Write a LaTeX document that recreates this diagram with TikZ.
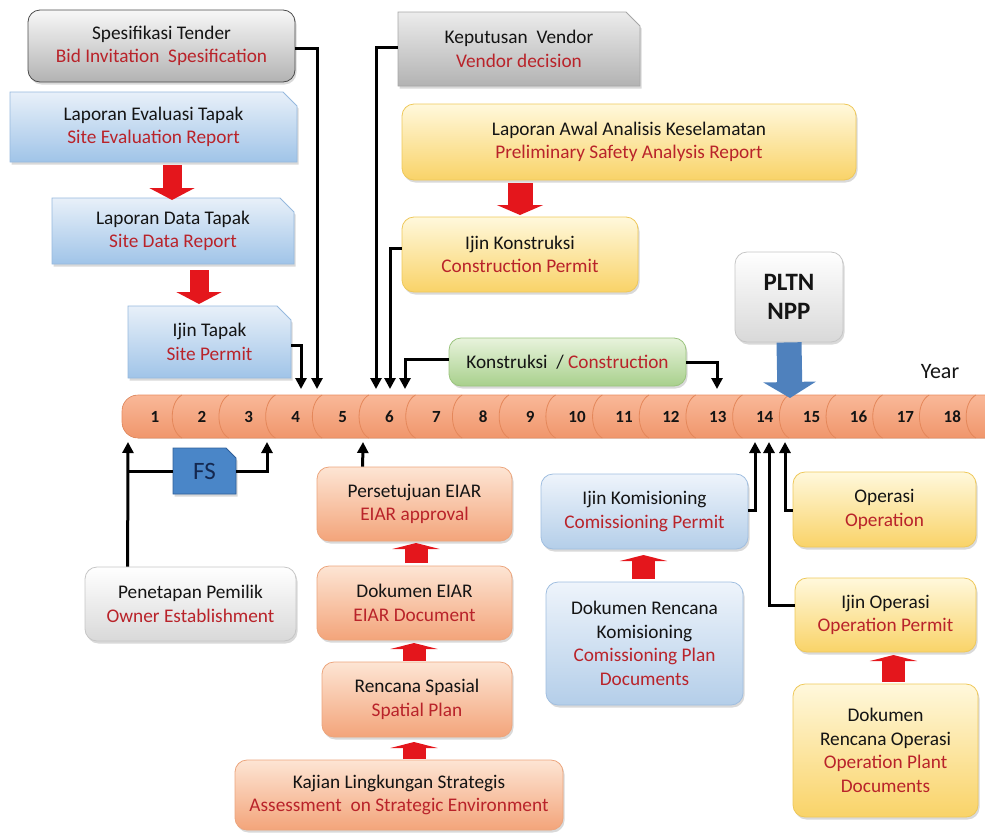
\documentclass[tikz,border=0pt]{standalone}
\usepackage{fontspec}
\setmainfont{Carlito}
\usetikzlibrary{arrows.meta,shapes.misc,shadows,calc}
\definecolor{tred}{RGB}{185,35,42}
\definecolor{ttext}{RGB}{20,20,20}
\definecolor{arrred}{RGB}{228,22,28}
\definecolor{arrblue}{RGB}{79,129,189}
\definecolor{tlTop}{RGB}{249,184,152}
\definecolor{tlBot}{RGB}{240,150,108}
\definecolor{tlEdge}{RGB}{232,140,95}
\definecolor{tlArc}{RGB}{228,135,90}
\definecolor{blTop}{RGB}{232,240,249}
\definecolor{blBot}{RGB}{160,196,232}
\definecolor{blEdge}{RGB}{150,185,222}
\definecolor{yeTop}{RGB}{255,248,220}
\definecolor{yeBot}{RGB}{249,211,104}
\definecolor{yeEdge}{RGB}{238,200,90}
\definecolor{orTop}{RGB}{253,229,212}
\definecolor{orBot}{RGB}{243,164,122}
\definecolor{orEdge}{RGB}{236,165,125}
\definecolor{grTop}{RGB}{232,243,220}
\definecolor{grBot}{RGB}{168,208,140}
\definecolor{grEdge}{RGB}{155,196,126}
\definecolor{lbTop}{RGB}{238,244,251}
\definecolor{lbBot}{RGB}{180,206,233}
\definecolor{lbEdge}{RGB}{160,190,224}
\definecolor{fsFill}{RGB}{74,134,200}
\definecolor{fsEdge}{RGB}{47,95,153}
\definecolor{fsText}{RGB}{20,40,80}
\newcommand{\mainsz}{\fontsize{19.3}{23.5}\selectfont}
\newcommand{\rt}[1]{\textcolor{tred}{#1}}
\begin{document}
\begin{tikzpicture}[x=1pt,y=-1pt,
  box/.style={align=center, inner sep=0pt, font=\mainsz, text=ttext, line width=0.8pt,
    drop shadow={shadow xshift=1.5pt,shadow yshift=-2.5pt,opacity=0.3}},
  rbox/.style={box, rounded corners=12pt},
  cbox/.style={box, chamfered rectangle, chamfered rectangle corners=north east,
    chamfered rectangle xsep=7pt, chamfered rectangle ysep=7pt},
  graybox/.style={rbox, top color=gray!6, bottom color=gray!60, draw=gray!60!black},
  grayc/.style={cbox, top color=gray!15, bottom color=gray!60, draw=gray!70},
  bluec/.style={cbox, top color=blTop, bottom color=blBot, draw=blEdge},
  yelbox/.style={rbox, top color=yeTop, bottom color=yeBot, draw=yeEdge},
  orbox/.style={rbox, top color=orTop, bottom color=orBot, draw=orEdge},
  grbox/.style={rbox, top color=grTop, bottom color=grBot, draw=grEdge},
  lbbox/.style={rbox, top color=lbTop, bottom color=lbBot, draw=lbEdge},
  whbox/.style={rbox, top color=white, bottom color=gray!30, draw=gray!45},
  conn/.style={line width=3pt, black, line join=miter, -{Triangle[width=11pt,length=11pt]}},
  plain/.style={line width=3pt, black},
  reddown/.style={line width=19pt, arrred, -{Triangle[width=45pt,length=12pt]}},
  redup/.style={line width=23pt, arrred, -{Triangle[width=47pt,length=6pt]}},
  yr/.style={font=\fontsize{17}{17}\selectfont\bfseries, text=ttext}
]
\useasboundingbox (0,0) rectangle (985,833);

% timeline
\fill[top color=tlTop, bottom color=tlBot, rounded corners=16pt]
  (122,395) rectangle (1015,438);
\draw[tlEdge, line width=0.6pt, rounded corners=16pt]
  (1015,395) -- (122,395) -- (122,438) -- (1015,438);
\foreach \k in {1,...,18} {
  \pgfmathsetmacro{\xt}{182+46.7*(\k-1)}
  \draw[tlArc, line width=0.8pt]
    (\xt,395) .. controls (\xt-13,402) and (\xt-13,431) .. (\xt,438);
}
\foreach \k in {1,...,18} {
  \pgfmathsetmacro{\xc}{155+46.9*(\k-1)}
  \node[yr] (yr\k) at (\xc,417) {\k};
}
\node[font=\fontsize{22}{22}\selectfont, text=ttext] (year) at (940,372) {Year};

% top boxes
\node[graybox, minimum width=267pt, minimum height=72pt] (spec) at (161.5,46)
  {Spesifikasi Tender\\\rt{Bid Invitation\ \ Spesification}};
\node[bluec, minimum width=287pt, minimum height=70pt] (evalT) at (153.5,127)
  {Laporan Evaluasi Tapak\\\rt{Site Evaluation Report}};
\node[bluec, minimum width=242pt, minimum height=66pt] (dataT) at (173,231)
  {Laporan Data Tapak\\\rt{Site Data Report}};
\node[bluec, minimum width=163pt, minimum height=72pt] (ijinT) at (209.5,342)
  {Ijin Tapak\\\rt{Site Permit}};
\node[grayc, minimum width=242pt, minimum height=74pt] (vendor) at (519,49)
  {Keputusan\ \ Vendor\\\rt{Vendor decision}};
\node[yelbox, minimum width=454pt, minimum height=76pt] (psar) at (629,142)
  {Laporan Awal Analisis Keselamatan\\\rt{Preliminary Safety Analysis Report}};
\node[yelbox, minimum width=236pt, minimum height=75pt] (ijinK) at (520,254.5)
  {Ijin Konstruksi\\\rt{Construction Permit}};
\node[whbox, minimum width=108pt, minimum height=90pt, font=\fontsize{25}{29}\selectfont\bfseries] (pltn) at (789,297)
  {PLTN\\NPP};
\node[grbox, minimum width=237pt, minimum height=48pt] (konstr) at (567.5,362)
  {Konstruksi\ \ / \rt{Construction}};

% bottom boxes
\node[box, chamfered rectangle, chamfered rectangle corners=north east,
  chamfered rectangle xsep=5pt, chamfered rectangle ysep=5pt,
  fill=fsFill, draw=fsEdge,
  minimum width=63pt, minimum height=46pt, font=\fontsize{25}{25}\selectfont,
  text=fsText] (fs) at (204.5,471) {FS};
\node[whbox, minimum width=211pt, minimum height=74pt] (owner) at (190.5,604)
  {Penetapan Pemilik\\\rt{Owner Establishment}};
\node[orbox, minimum width=195pt, minimum height=74pt] (eiarA) at (414.5,504)
  {Persetujuan EIAR\\\rt{EIAR approval}};
\node[orbox, minimum width=195pt, minimum height=74pt] (eiarD) at (414.5,603)
  {Dokumen EIAR\\\rt{EIAR Document}};
\node[orbox, minimum width=190pt, minimum height=75pt] (spatial) at (417,699.5)
  {Rencana Spasial\\\rt{Spatial Plan}};
\node[orbox, minimum width=328pt, minimum height=70pt] (kajian) at (399,795)
  {Kajian Lingkungan Strategis\\\rt{Assessment\ \ on Strategic Environment}};
\node[lbbox, minimum width=207pt, minimum height=75pt] (komP) at (644.5,511.5)
  {Ijin Komisioning\\\rt{Comissioning Permit}};
\node[lbbox, minimum width=197pt, minimum height=123pt] (komD) at (644.5,643.5)
  {Dokumen Rencana\\Komisioning\\\rt{Comissioning Plan}\\\rt{Documents}};
\node[yelbox, minimum width=183pt, minimum height=75pt] (oper) at (884.5,509.5)
  {Operasi\\\rt{Operation}};
\node[yelbox, minimum width=181pt, minimum height=74pt] (operP) at (885.5,615)
  {Ijin Operasi\\\rt{Operation Permit}};
\node[yelbox, minimum width=185pt, minimum height=133pt] (operD) at (885.5,750.5)
  {Dokumen\\Rencana Operasi\\\rt{Operation Plant}\\\rt{Documents}};

% timeline arrival points
\coordinate (tA) at (301,389);
\coordinate (tB) at (317,389);
\coordinate (tC) at (376,389);
\coordinate (tD) at (390,389);
\coordinate (tE) at (405,389);
\coordinate (tF) at (717,389);
\coordinate (bA) at (128,442);
\coordinate (bB) at (267,442);
\coordinate (bC) at (363,442);
\coordinate (bD) at (755,442);
\coordinate (bE) at (769,442);
\coordinate (bF) at (785,442);

% connectors
\draw[conn] ($(spec.east)+(0,2)$) -| (tB);
\draw[conn] ($(ijinT.east)+(0,3)$) -| (tA);
\draw[conn] ($(vendor.west)+(0,-2)$) -| (tC);
\draw[conn] ($(ijinK.west)+(0,-6)$) -| (tD);
\draw[conn] ($(konstr.west)+(0,-3)$) -| (tE);
\draw[conn] (konstr.east) -| (tF);
\draw[conn] ($(owner.north west)+(43,0)$) -- (bA);
\draw[plain] (fs.west) -- (128,471);
\draw[conn] (fs.east) -| (bB);
\draw[conn] ($(eiarA.north west)+(46,0)$) -- (bC);
\draw[conn] ($(komP.east)+(0,-1.5)$) -| (bD);
\draw[conn] ($(oper.west)+(0,0.5)$) -| (bF);
\draw[conn] ($(operP.west)+(0,-10)$) -| (bE);

% red block arrows
\draw[reddown] (172,165) -- (172,200);
\draw[reddown] (199,270) -- (199,304);
\draw[reddown, line width=25pt, -{Triangle[width=46pt,length=10pt]}] (520,183) -- (520,215);
\draw[redup] (416,563) -- (416,543);
\draw[redup] (414,661) -- (414,643);
\draw[redup] (414,759) -- (414,742);
\draw[redup] (643.5,579) -- (643.5,555);
\draw[redup] (893.5,682) -- (893.5,655);

% blue arrow
\draw[line width=25pt, arrblue, -{Triangle[width=52pt,length=16pt]}] (pltn.south) -- (790,398);
\end{tikzpicture}
\end{document}
